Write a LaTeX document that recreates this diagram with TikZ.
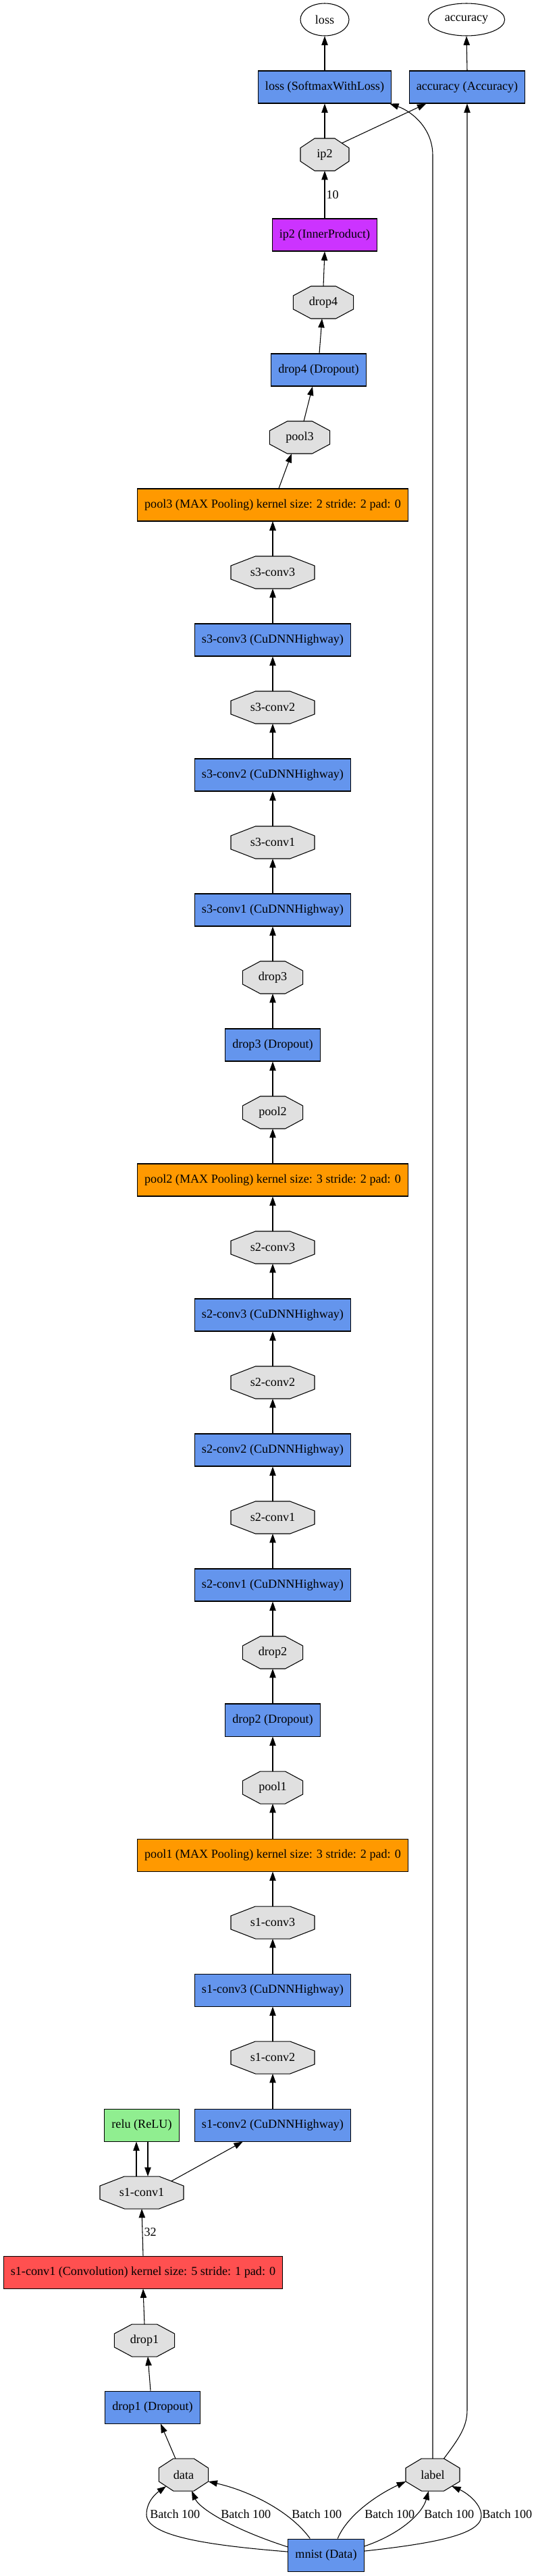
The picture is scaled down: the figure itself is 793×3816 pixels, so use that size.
\documentclass[tikz,border=0pt]{standalone}
\usepackage{fontspec}
\setmainfont{Liberation Serif}
\usepackage{tikz}
\usetikzlibrary{arrows.meta, calc, shapes.geometric, backgrounds}

\definecolor{layerblue}{HTML}{6495ED}
\definecolor{poolorange}{HTML}{FF9900}
\definecolor{ipviolet}{HTML}{CC33FF}
\definecolor{convred}{HTML}{FF5050}
\definecolor{relugreen}{HTML}{90EE90}
\definecolor{blobgray}{HTML}{E0E0E0}

\tikzset{
  lyrbox/.style={draw, rectangle, fill=#1, minimum height=36pt, inner xsep=8pt, line width=.8pt},
  blobbox/.style={rectangle, minimum height=36pt, minimum width=#1, outer sep=0pt},
  blobline/.style={draw, fill=blobgray, line width=.8pt},
  outblob/.style={draw, ellipse, minimum height=36pt, minimum width=#1, inner sep=0pt, line width=.8pt},
  conn/.style={-{Triangle[length=10pt,width=7pt]}, line width=.8pt},
  lbl/.style={inner sep=1.5pt}
}

\begin{document}
\begin{tikzpicture}[x=0.75pt, y=-0.75pt, font=\fontsize{13.6}{16}\selectfont]
    \useasboundingbox (0,0) rectangle (793,3816);
    \def\cx{404}

    % --- 1. 輸出 loss, accuracy 與 ip2 ---
    \node[outblob=54pt] (loss) at (481,29) {loss};
    \node[outblob=85pt] (acc) at (691,29) {accuracy};
    \node[lyrbox=layerblue] (lossL) at (481,129) {loss (SoftmaxWithLoss)};
    \node[lyrbox=layerblue] (accL) at (692,129) {accuracy (Accuracy)};
    \node[blobbox=54pt] (ip2) at (481,229) {ip2};
    \node[lyrbox=ipviolet] (ip2L) at (481,348) {ip2 (InnerProduct)};
    \node[blobbox=67pt] (drop4) at (479,448) {drop4};
    \node[lyrbox=layerblue] (drop4L) at (472,548) {drop4 (Dropout)};
    \node[blobbox=67pt] (pool3) at (444,648) {pool3};
    \node[lyrbox=poolorange] (pool3L) at (\cx,748) {pool3 (MAX Pooling) kernel size: 2 stride: 2 pad: 0};

    % --- 2. 第 3, 2 段 highway (s3, s2) ---
    \foreach \s/\pl/\y in {3/2/848, 2/1/1848}{
      \node[blobbox=93pt] (s\s c3) at (\cx,\y) {s\s-conv3};
      \node[lyrbox=layerblue] (s\s c3L) at (\cx,\y+100) {s\s-conv3 (CuDNNHighway)};
      \node[blobbox=93pt] (s\s c2) at (\cx,\y+200) {s\s-conv2};
      \node[lyrbox=layerblue] (s\s c2L) at (\cx,\y+300) {s\s-conv2 (CuDNNHighway)};
      \node[blobbox=93pt] (s\s c1) at (\cx,\y+400) {s\s-conv1};
      \node[lyrbox=layerblue] (s\s c1L) at (\cx,\y+500) {s\s-conv1 (CuDNNHighway)};
      \node[blobbox=67pt] (drop\s) at (\cx,\y+600) {drop\s};
      \node[lyrbox=layerblue] (drop\s L) at (\cx,\y+700) {drop\s\ (Dropout)};
      \node[blobbox=67pt] (pool\pl) at (\cx,\y+800) {pool\pl};
      \node[lyrbox=poolorange] (pool\pl L) at (\cx,\y+900) {pool\pl\ (MAX Pooling) kernel size: 3 stride: 2 pad: 0};

      \draw[conn] (s\s c3.north) -- (pool\s L.south);
      \foreach \a/\b in {c3L/c3, c2/c3L, c2L/c2, c1/c2L, c1L/c1}
        \draw[conn] (s\s\a.north) -- (s\s\b.south);
      \draw[conn] (drop\s.north) -- (s\s c1L.south);
      \draw[conn] (drop\s L.north) -- (drop\s.south);
      \draw[conn] (pool\pl.north) -- (drop\s L.south);
      \draw[conn] (pool\pl L.north) -- (pool\pl.south);
    }

    % --- 3. 第 1 段 (s1) 與 relu ---
    \node[blobbox=93pt] (s1c3) at (\cx,2848) {s1-conv3};
    \node[lyrbox=layerblue] (s1c3L) at (\cx,2948) {s1-conv3 (CuDNNHighway)};
    \node[blobbox=93pt] (s1c2) at (\cx,3048) {s1-conv2};
    \node[lyrbox=layerblue] (s1c2L) at (\cx,3148) {s1-conv2 (CuDNNHighway)};
    \node[lyrbox=relugreen] (reluL) at (210,3148) {relu (ReLU)};
    \node[blobbox=93pt] (s1c1) at (210,3248) {s1-conv1};
    \node[lyrbox=convred] (s1c1L) at (212,3366) {s1-conv1 (Convolution) kernel size: 5 stride: 1 pad: 0};
    \node[blobbox=67pt] (drop1) at (214,3467) {drop1};
    \node[lyrbox=layerblue] (drop1L) at (226,3566) {drop1 (Dropout)};

    % --- 4. 資料層 mnist ---
    \node[blobbox=55pt] (data) at (272,3666) {data};
    \node[blobbox=60pt] (label) at (641,3666) {label};
    \node[lyrbox=layerblue] (mnistL) at (483,3785) {mnist (Data)};

    % --- 5. 八邊形 blob (畫在背景) ---
    \begin{scope}[on background layer]
    \foreach \nm in {ip2,drop4,pool3,s3c3,s3c2,s3c1,drop3,pool2,s2c3,s2c2,s2c1,drop2,pool1,s1c3,s1c2,s1c1,drop1,data,label}
      \filldraw[blobline] ($(\nm.north west)!.293!(\nm.north east)$) -- ($(\nm.north west)!.707!(\nm.north east)$)
        -- ($(\nm.north east)!.293!(\nm.south east)$) -- ($(\nm.north east)!.707!(\nm.south east)$)
        -- ($(\nm.south east)!.293!(\nm.south west)$) -- ($(\nm.south east)!.707!(\nm.south west)$)
        -- ($(\nm.south west)!.293!(\nm.north west)$) -- ($(\nm.south west)!.707!(\nm.north west)$) -- cycle;
    \end{scope}

    % --- 6. 上半部連線 ---
    \draw[conn] (lossL.north) -- (loss.south);
    \draw[conn] (accL.north) -- (acc.south);
    \draw[conn] (ip2.north) -- (lossL.south);
    \draw[conn] ($(ip2.center)!.707!(ip2.north east)$) -- (accL.202);
    \draw[conn] (ip2L.north) -- (ip2.south) node[lbl, right, midway] (lab10) {10};
    \draw[conn] (drop4.north) -- (ip2L.south);
    \draw[conn] ($(drop4L.north)+(1,0)$) -- ($(drop4.south)+(-2,0)$);
    \draw[conn] ($(pool3.north)+(6,0)$) -- ($(drop4L.south)+(-9,0)$);
    \draw[conn] ($(pool3L.north)+(9,0)$) -- ($(pool3.south)+(-12,0)$);
    \draw[conn] (s3c3.north) -- (pool3L.south);

    % --- 7. s1 段連線 ---
    \draw[conn] (s1c3.north) -- (pool1L.south);
    \draw[conn] (s1c3L.north) -- (s1c3.south);
    \draw[conn] (s1c2.north) -- (s1c3L.south);
    \draw[conn] (s1c2L.north) -- (s1c2.south);
    \draw[conn] ($(s1c1.center)!.707!(s1c1.north east)$) -- (s1c2L.209);
    \draw[conn] ($(s1c1.north)+(-8,0)$) -- ($(reluL.south)+(-8,0)$);
    \draw[conn] ($(reluL.south)+(9,0)$) -- ($(s1c1.north)+(9,0)$);
    \draw[conn] (s1c1L.north) -- (s1c1.south) node[lbl, right, midway] (lab32) {32};
    \draw[conn] (drop1.north) -- (s1c1L.south);
    \draw[conn] ($(drop1L.north)+(-3,0)$) -- ($(drop1.south)+(5,0)$);
    \draw[conn] ($(data.north)+(-12,0)$) -- ($(drop1L.south)+(12,0)$);

    % --- 8. label 往上接 loss, accuracy ---
    \draw[conn] (label.north) -- (641,230) .. controls (641,190) and (610,165) .. ($(lossL.south east)+(-3,0)$);
    \draw[conn] ($(label.north)!.414!(label.north east)$) .. controls (680,3612) and (692,3595) .. (692,3570) -- (accL.south);

    % --- 9. mnist -> data, label (Batch 100) ---
    \draw[conn] (mnistL.175) .. controls (330,3772) and (217,3760) .. (217,3725)
      .. controls (217,3705) and (232,3693) .. ($(data.center)!.707!(data.south west)$);
    \draw[conn] (mnistL.168) .. controls (340,3745) and (295,3715) .. ($(data.south)+(12,0)$);
    \draw[conn] (mnistL.134) .. controls (430,3720) and (370,3690) .. ($(data.east)+(0,10)$);
    \draw[conn] (mnistL.55) .. controls (515,3725) and (560,3695) .. ($(label.west)+(0,10)$);
    \draw[conn] (mnistL.13) .. controls (590,3755) and (625,3725) .. ($(label.south)+(-6,0)$);
    \draw[conn] (mnistL.6) .. controls (640,3768) and (713,3755) .. (713,3727)
      .. controls (713,3708) and (690,3692) .. ($(label.center)!.707!(label.south east)$);

    \node[lbl, anchor=west] (bt1) at (220,3724) {Batch 100};
    \node[lbl, anchor=west] (bt2) at (325,3724) {Batch 100};
    \node[lbl, anchor=west] (bt3) at (430,3724) {Batch 100};
    \node[lbl, anchor=west] (bt4) at (538,3724) {Batch 100};
    \node[lbl, anchor=west] (bt5) at (626,3724) {Batch 100};
    \node[lbl, anchor=west] (bt6) at (712,3724) {Batch 100};

\end{tikzpicture}
\end{document}
